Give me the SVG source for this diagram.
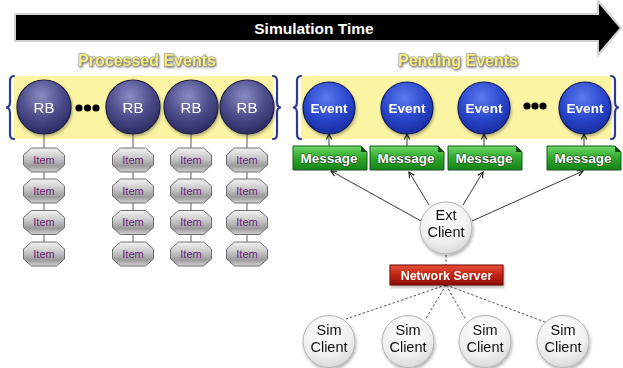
<svg xmlns="http://www.w3.org/2000/svg" width="623" height="368" viewBox="0 0 623 368">
  <defs>
    <radialGradient id="gRB" cx="0.45" cy="0.3" r="0.75">
      <stop offset="0" stop-color="#8a8ac4"/>
      <stop offset="0.55" stop-color="#4a4a88"/>
      <stop offset="1" stop-color="#26265c"/>
    </radialGradient>
    <radialGradient id="gEvent" cx="0.45" cy="0.3" r="0.75">
      <stop offset="0" stop-color="#5a7af0"/>
      <stop offset="0.55" stop-color="#2a48cc"/>
      <stop offset="1" stop-color="#16289a"/>
    </radialGradient>
    <radialGradient id="gClient" cx="0.45" cy="0.3" r="0.8">
      <stop offset="0" stop-color="#ffffff"/>
      <stop offset="0.6" stop-color="#f0f0f0"/>
      <stop offset="1" stop-color="#cfcfcf"/>
    </radialGradient>
    <linearGradient id="gItem" x1="0" y1="0" x2="0" y2="1">
      <stop offset="0" stop-color="#f4f4f4"/>
      <stop offset="0.45" stop-color="#c4c4c4"/>
      <stop offset="0.75" stop-color="#9a9a9a"/>
      <stop offset="1" stop-color="#d4d4d4"/>
    </linearGradient>
    <linearGradient id="gMsg" x1="0" y1="0" x2="0" y2="1">
      <stop offset="0" stop-color="#6fd86a"/>
      <stop offset="0.5" stop-color="#2ea82a"/>
      <stop offset="1" stop-color="#17821a"/>
    </linearGradient>
    <linearGradient id="gServer" x1="0" y1="0" x2="0" y2="1">
      <stop offset="0" stop-color="#e8503a"/>
      <stop offset="0.5" stop-color="#c02414"/>
      <stop offset="1" stop-color="#8c0e06"/>
    </linearGradient>
    <filter id="shadow" x="-30%" y="-30%" width="160%" height="160%">
      <feDropShadow dx="1" dy="2" stdDeviation="1.5" flood-color="#000" flood-opacity="0.3"/>
    </filter>
    <filter id="titleShadow" x="-10%" y="-30%" width="120%" height="160%">
      <feDropShadow dx="0.8" dy="1" stdDeviation="0.8" flood-color="#444" flood-opacity="0.8"/>
    </filter>
    <marker id="arrow" viewBox="0 0 10 10" refX="9" refY="5" markerWidth="7" markerHeight="7" orient="auto-start-reverse" markerUnits="userSpaceOnUse">
      <path d="M1,1 L9,5 L1,9" fill="none" stroke="#111" stroke-width="1.6"/>
    </marker>
    <polygon id="octagon" points="-12.5,-12 12.5,-12 20.5,-5 20.5,5 12.5,12 -12.5,12 -20.5,5 -20.5,-5"/>
  </defs>
  <style>
    text { font-family: "Liberation Sans", Arial, sans-serif; text-anchor: middle; }
    .title { font-size: 16px; font-weight: bold; fill: #f4ec84; stroke: #8c8a74; stroke-width: 0.8px; paint-order: stroke; }
    .panel { fill: #fbf4a2; }
    .brace { fill: none; stroke: #2e3a8c; stroke-width: 2.2; stroke-linecap: round; }
    .rb { fill: url(#gRB); stroke: #1c1c44; stroke-width: 1.2; }
    .rbText { font-size: 15px; fill: #ffffff; }
    .event { fill: url(#gEvent); stroke: #0e1a5e; stroke-width: 1.2; }
    .eventText { font-size: 13.5px; font-weight: bold; fill: #ffffff; }
    .item { fill: url(#gItem); stroke: #6e6e6e; stroke-width: 1; }
    .itemText { font-size: 11px; fill: #6b1f74; }
    .msg { fill: url(#gMsg); stroke: #14561a; stroke-width: 1; }
    .msgFold { fill: #0f4a12; }
    .msgText { font-size: 13.5px; font-weight: bold; fill: #ffffff; stroke: #1b4d1b; stroke-width: 1.2px; paint-order: stroke; }
    .client { fill: url(#gClient); stroke: #b4b4b4; stroke-width: 1; }
    .clientText { font-size: 14.5px; fill: #111; }
    .server { fill: url(#gServer); stroke: #6a0a04; stroke-width: 1; }
    .serverText { font-size: 12.5px; font-weight: bold; fill: #ffffff; }
    .chain { stroke: #777; stroke-width: 1.2; fill: none; }
    .arrowLine { stroke: #222; stroke-width: 0.9; fill: none; marker-end: url(#arrow); }
    .dashed { stroke: #555; stroke-width: 1; stroke-dasharray: 2.5 2; fill: none; }
    .dot { fill: #000; }
  </style>

  <!-- time axis -->
  <g id="timeline">
    <polygon points="15,14 598,14 598,1 621,28 598,55 598,41 15,41" fill="#000" stroke="#d2d2d2" stroke-width="2" stroke-linejoin="miter"/>
    <text x="314" y="33.5" style="font-size:15.5px;font-weight:bold;fill:#fff">Simulation Time</text>
  </g>

  <!-- section titles -->
  <g id="titles" filter="url(#titleShadow)">
    <text class="title" x="147" y="66">Processed Events</text>
    <text class="title" x="458" y="66">Pending Events</text>
  </g>

  <!-- processed events panel -->
  <g id="processed-panel">
    <rect class="panel" x="14" y="76" width="259" height="63"/>
    <path class="brace" d="M14,76 Q10,76 10,81 L10,102 Q10,107.5 6,107.5 Q10,107.5 10,113 L10,134 Q10,139 14,139"/>
    <path class="brace" d="M273,76 Q277,76 277,81 L277,102 Q277,107.5 281,107.5 Q277,107.5 277,113 L277,134 Q277,139 273,139"/>
  </g>

  <!-- pending events panel -->
  <g id="pending-panel">
    <rect class="panel" x="301" y="76" width="310" height="63"/>
    <path class="brace" d="M301,76 Q297,76 297,81 L297,102 Q297,107.5 293,107.5 Q297,107.5 297,113 L297,134 Q297,139 301,139"/>
    <path class="brace" d="M611,76 Q615,76 615,81 L615,102 Q615,107.5 619,107.5 Q615,107.5 615,113 L615,134 Q615,139 611,139"/>
  </g>

  <!-- connectors -->
  <g id="connectors">
    <!-- record chains -->
    <line class="chain" x1="44" y1="134" x2="44" y2="254"/>
    <line class="chain" x1="133" y1="134" x2="133" y2="254"/>
    <line class="chain" x1="191" y1="134" x2="191" y2="254"/>
    <line class="chain" x1="247" y1="134" x2="247" y2="254"/>
    <!-- message to event -->
    <line class="arrowLine" x1="329" y1="146" x2="329" y2="134"/>
    <line class="arrowLine" x1="407" y1="146" x2="407" y2="134"/>
    <line class="arrowLine" x1="484" y1="146" x2="484" y2="134"/>
    <line class="arrowLine" x1="584" y1="146" x2="584" y2="134"/>
    <!-- ext client to messages -->
    <line class="arrowLine" x1="421" y1="221" x2="331" y2="171"/>
    <line class="arrowLine" x1="429" y1="205" x2="409" y2="172"/>
    <line class="arrowLine" x1="463" y1="205" x2="483" y2="172"/>
    <line class="arrowLine" x1="472" y1="221" x2="583" y2="171"/>
    <!-- ext client to server -->
    <line class="dashed" x1="446" y1="255" x2="446" y2="265"/>
    <!-- server to sim clients -->
    <line class="dashed" x1="446" y1="285" x2="346" y2="319"/>
    <line class="dashed" x1="446" y1="285" x2="425" y2="320"/>
    <line class="dashed" x1="446" y1="285" x2="466" y2="320"/>
    <line class="dashed" x1="446" y1="285" x2="545" y2="322"/>
  </g>

  <!-- record buffers -->
  <g id="rb-1" filter="url(#shadow)"><circle class="rb" cx="44" cy="107" r="27"/><text class="rbText" x="44" y="112.5">RB</text></g>
  <g id="rb-2" filter="url(#shadow)"><circle class="rb" cx="133" cy="107" r="27"/><text class="rbText" x="133" y="112.5">RB</text></g>
  <g id="rb-3" filter="url(#shadow)"><circle class="rb" cx="191" cy="107" r="27"/><text class="rbText" x="191" y="112.5">RB</text></g>
  <g id="rb-4" filter="url(#shadow)"><circle class="rb" cx="247" cy="107" r="27"/><text class="rbText" x="247" y="112.5">RB</text></g>
  <g id="rb-ellipsis">
    <circle class="dot" cx="79" cy="108" r="3.6"/>
    <circle class="dot" cx="87.5" cy="108" r="3.6"/>
    <circle class="dot" cx="96" cy="108" r="3.6"/>
  </g>

  <!-- items -->
  <g id="items">
    <g id="item-1-1" transform="translate(44,160)"><use href="#octagon" class="item"/><text class="itemText" y="3.8">Item</text></g>
    <g id="item-1-2" transform="translate(44,191)"><use href="#octagon" class="item"/><text class="itemText" y="3.8">Item</text></g>
    <g id="item-1-3" transform="translate(44,222.5)"><use href="#octagon" class="item"/><text class="itemText" y="3.8">Item</text></g>
    <g id="item-1-4" transform="translate(44,254)"><use href="#octagon" class="item"/><text class="itemText" y="3.8">Item</text></g>
    <g id="item-2-1" transform="translate(133,160)"><use href="#octagon" class="item"/><text class="itemText" y="3.8">Item</text></g>
    <g id="item-2-2" transform="translate(133,191)"><use href="#octagon" class="item"/><text class="itemText" y="3.8">Item</text></g>
    <g id="item-2-3" transform="translate(133,222.5)"><use href="#octagon" class="item"/><text class="itemText" y="3.8">Item</text></g>
    <g id="item-2-4" transform="translate(133,254)"><use href="#octagon" class="item"/><text class="itemText" y="3.8">Item</text></g>
    <g id="item-3-1" transform="translate(191,160)"><use href="#octagon" class="item"/><text class="itemText" y="3.8">Item</text></g>
    <g id="item-3-2" transform="translate(191,191)"><use href="#octagon" class="item"/><text class="itemText" y="3.8">Item</text></g>
    <g id="item-3-3" transform="translate(191,222.5)"><use href="#octagon" class="item"/><text class="itemText" y="3.8">Item</text></g>
    <g id="item-3-4" transform="translate(191,254)"><use href="#octagon" class="item"/><text class="itemText" y="3.8">Item</text></g>
    <g id="item-4-1" transform="translate(247,160)"><use href="#octagon" class="item"/><text class="itemText" y="3.8">Item</text></g>
    <g id="item-4-2" transform="translate(247,191)"><use href="#octagon" class="item"/><text class="itemText" y="3.8">Item</text></g>
    <g id="item-4-3" transform="translate(247,222.5)"><use href="#octagon" class="item"/><text class="itemText" y="3.8">Item</text></g>
    <g id="item-4-4" transform="translate(247,254)"><use href="#octagon" class="item"/><text class="itemText" y="3.8">Item</text></g>
  </g>

  <!-- pending events -->
  <g id="event-1" filter="url(#shadow)"><circle class="event" cx="329" cy="108" r="26"/><text class="eventText" x="329" y="112.5">Event</text></g>
  <g id="event-2" filter="url(#shadow)"><circle class="event" cx="407" cy="108" r="26"/><text class="eventText" x="407" y="112.5">Event</text></g>
  <g id="event-3" filter="url(#shadow)"><circle class="event" cx="484" cy="108" r="26"/><text class="eventText" x="484" y="112.5">Event</text></g>
  <g id="event-4" filter="url(#shadow)"><circle class="event" cx="585" cy="108" r="26"/><text class="eventText" x="585" y="112.5">Event</text></g>
  <g id="event-ellipsis">
    <circle class="dot" cx="527" cy="106" r="3.6"/>
    <circle class="dot" cx="535" cy="106" r="3.6"/>
    <circle class="dot" cx="543" cy="106" r="3.6"/>
  </g>

  <!-- messages -->
  <g id="message-1"><polygon class="msg" points="293,146 361,146 367,152 367,170 293,170"/><polygon class="msgFold" points="361,146 367,152 361,152"/><text class="msgText" x="329" y="163">Message</text></g>
  <g id="message-2"><polygon class="msg" points="370,146 438,146 444,152 444,170 370,170"/><polygon class="msgFold" points="438,146 444,152 438,152"/><text class="msgText" x="406" y="163">Message</text></g>
  <g id="message-3"><polygon class="msg" points="448,146 516,146 522,152 522,170 448,170"/><polygon class="msgFold" points="516,146 522,152 516,152"/><text class="msgText" x="484" y="163">Message</text></g>
  <g id="message-4"><polygon class="msg" points="547,146 615,146 621,152 621,170 547,170"/><polygon class="msgFold" points="615,146 621,152 615,152"/><text class="msgText" x="583" y="163">Message</text></g>

  <!-- external client -->
  <g id="ext-client" filter="url(#shadow)">
    <circle class="client" cx="446" cy="228" r="26"/>
    <text class="clientText" x="446" y="220">Ext</text>
    <text class="clientText" x="446" y="237">Client</text>
  </g>

  <!-- network server -->
  <g id="network-server" filter="url(#shadow)">
    <rect class="server" x="390" y="265" width="113" height="20"/>
    <text class="serverText" x="446.5" y="280">Network Server</text>
  </g>

  <!-- simulation clients -->
  <g id="sim-client-1" filter="url(#shadow)"><circle class="client" cx="329" cy="341.5" r="26"/><text class="clientText" x="329" y="335">Sim</text><text class="clientText" x="329" y="352">Client</text></g>
  <g id="sim-client-2" filter="url(#shadow)"><circle class="client" cx="408" cy="341.5" r="26"/><text class="clientText" x="408" y="335">Sim</text><text class="clientText" x="408" y="352">Client</text></g>
  <g id="sim-client-3" filter="url(#shadow)"><circle class="client" cx="485" cy="341.5" r="26"/><text class="clientText" x="485" y="335">Sim</text><text class="clientText" x="485" y="352">Client</text></g>
  <g id="sim-client-4" filter="url(#shadow)"><circle class="client" cx="563" cy="341.5" r="26"/><text class="clientText" x="563" y="335">Sim</text><text class="clientText" x="563" y="352">Client</text></g>
</svg>
